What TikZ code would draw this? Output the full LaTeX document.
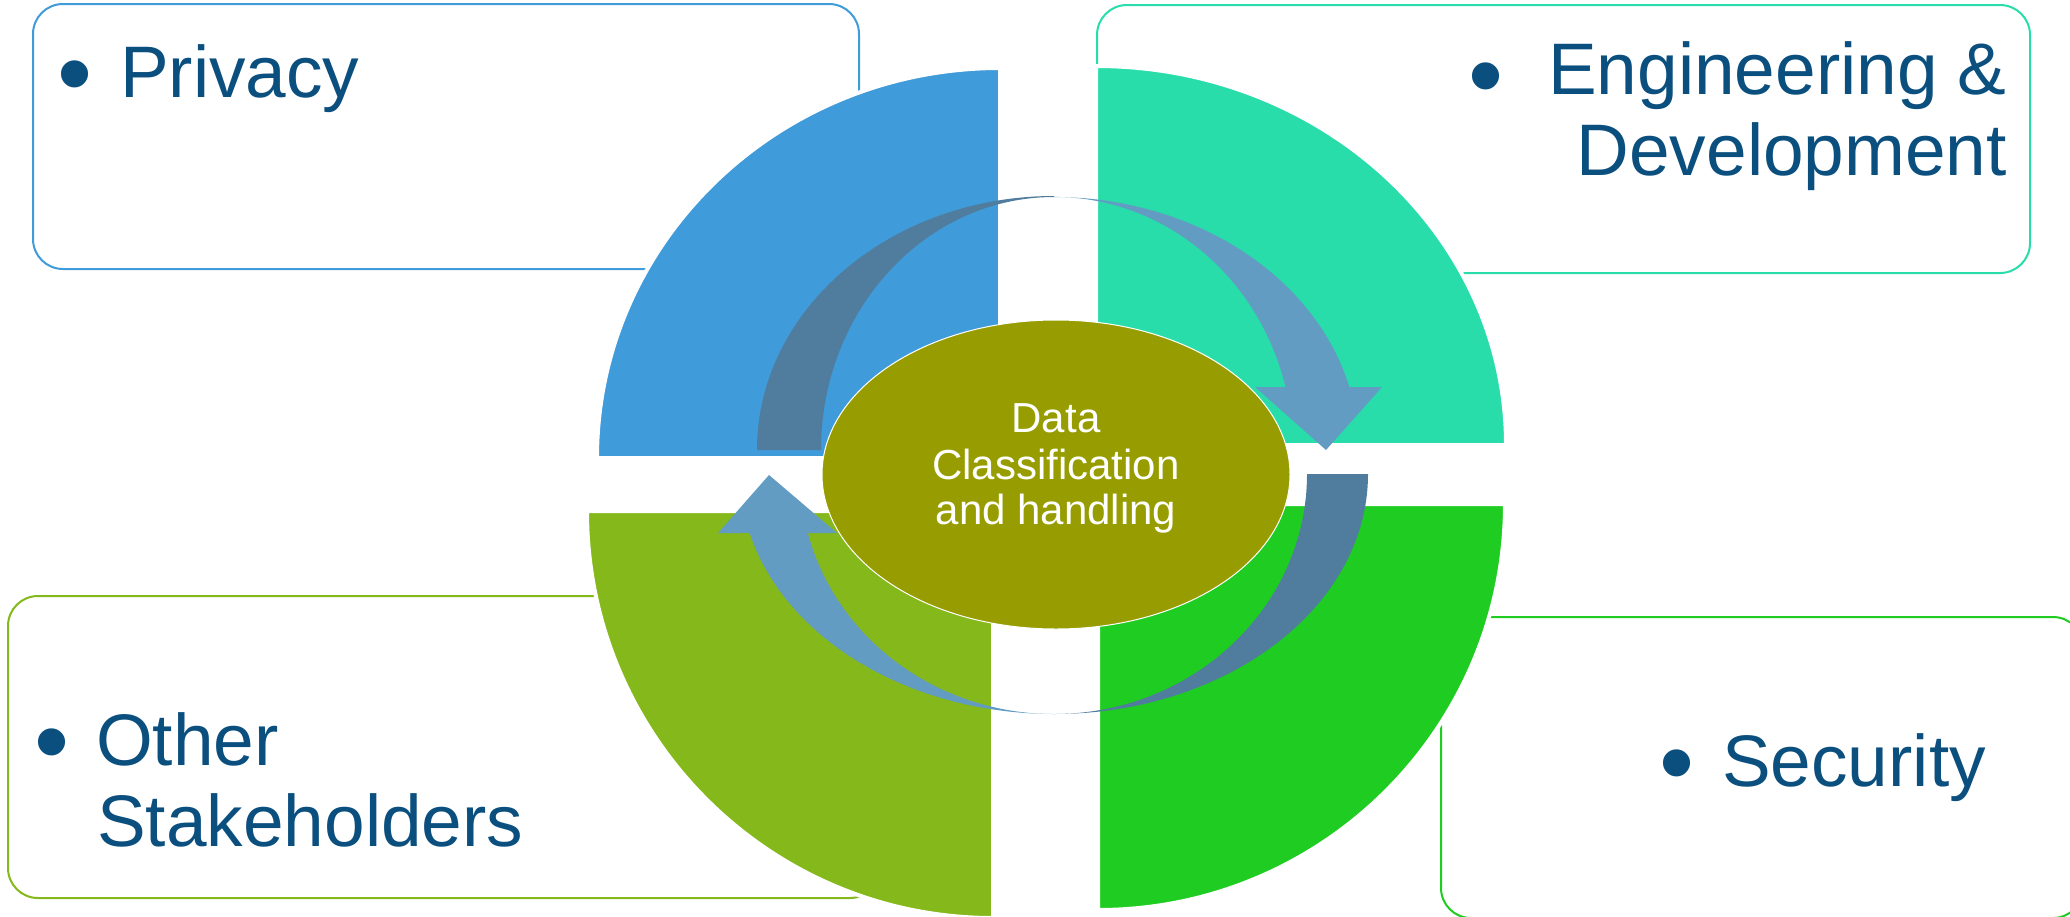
\documentclass[tikz,border=0pt]{standalone}
\usepackage{fontspec}
\setmainfont{Liberation Sans}
\usetikzlibrary{shapes.geometric}
\definecolor{qblue}{RGB}{63,155,218}
\definecolor{qteal}{RGB}{40,221,170}
\definecolor{qlime}{RGB}{133,184,26}
\definecolor{qgreen}{RGB}{30,204,34}
\definecolor{qolive}{RGB}{151,157,0}
\definecolor{arrdark}{RGB}{80,125,157}
\definecolor{arrlight}{RGB}{98,156,195}
\definecolor{txtblue}{RGB}{11,79,127}
\begin{document}
\begin{tikzpicture}[x=1pt,y=-1pt,
  box/.style={line width=2pt, rounded corners=30pt},
  quad/.style={draw=white, line width=4pt},
  lbl/.style={text=txtblue, font=\fontsize{73}{81}\selectfont, inner sep=0pt},
  bul/.style={text=txtblue, font=\fontsize{100}{100}\selectfont, inner sep=0pt, anchor=base},
  ctr/.style={text=white, font=\fontsize{42}{46}\selectfont, inner sep=0pt, anchor=base}]
\useasboundingbox (0,0) rectangle (2070,916);
% boxes
\draw[box, draw=qblue] (33,4) rectangle (859,269);
\draw[box, draw=qteal] (1097,5) rectangle (2030,273);
\draw[box, draw=qlime] (8,596) rectangle (880,898);
\draw[box, draw=qgreen] (1441,617) rectangle (2083,918);
% quadrants
\filldraw[quad, fill=qblue] (1000,458) -- (597,458) arc[start angle=180, end angle=270, x radius=403, y radius=390] -- cycle;
\filldraw[quad, fill=qteal] (1096,445) -- (1096,66) arc[start angle=270, end angle=360, x radius=410, y radius=379] -- cycle;
\filldraw[quad, fill=qgreen] (1098,504) -- (1505,504) arc[start angle=0, end angle=90, x radius=407, y radius=406] -- cycle;
\filldraw[quad, fill=qlime] (993,511) -- (993,918) arc[start angle=90, end angle=180, x radius=406, y radius=407] -- cycle;
% cycle arrows
\fill[arrdark] (757,450) arc[start angle=180, end angle=270, x radius=297, y radius=254] -- (1054,197) arc[start angle=270, end angle=180, x radius=233, y radius=253] -- cycle;
\fill[arrlight] (1054,197) arc[start angle=270, end angle=345.6, x radius=305, y radius=253] -- (1382,387) -- (1326,450) -- (1255,387) -- (1285.5,387) arc[start angle=345.6, end angle=270, x radius=239, y radius=253] -- cycle;
\fill[arrdark] (1368,474) arc[start angle=0, end angle=90, x radius=314, y radius=240] -- (1054,714) arc[start angle=90, end angle=0, x radius=253, y radius=240] -- cycle;
\fill[arrlight] (1054,714) arc[start angle=90, end angle=165.77, x radius=314, y radius=240] -- (718,533) -- (769,475) -- (837,533) -- (807.8,533) arc[start angle=165.77, end angle=90, x radius=254, y radius=240] -- cycle;
% centre
\node[ellipse, fill=qolive, draw=white, line width=1pt, minimum width=468pt, minimum height=309pt, inner sep=0pt] (core) at (1056,474.5) {};
\node[ctr] (c1) at (1056,432) {Data};
\node[ctr] (c2) at (1056,479) {Classification};
\node[ctr] (c3) at (1056,524) {and handling};
% labels
\node[bul] (b1) at (75.5,107) {•};
\node[lbl, anchor=base west] (t1) at (120,97) {Privacy};
\node[bul] (b2) at (1486,109) {•};
\node[lbl, anchor=base east] (t2a) at (2007,94) {Engineering \&};
\node[lbl, anchor=base east] (t2b) at (2007,175) {Development};
\node[bul] (b3) at (52,775) {•};
\node[lbl, anchor=base west] (t3a) at (96,765) {Other};
\node[lbl, anchor=base west] (t3b) at (97,846) {Stakeholders};
\node[bul] (b4) at (1677,796) {•};
\node[lbl, anchor=base west] (t4) at (1722,786) {Security};
\end{tikzpicture}
\end{document}
